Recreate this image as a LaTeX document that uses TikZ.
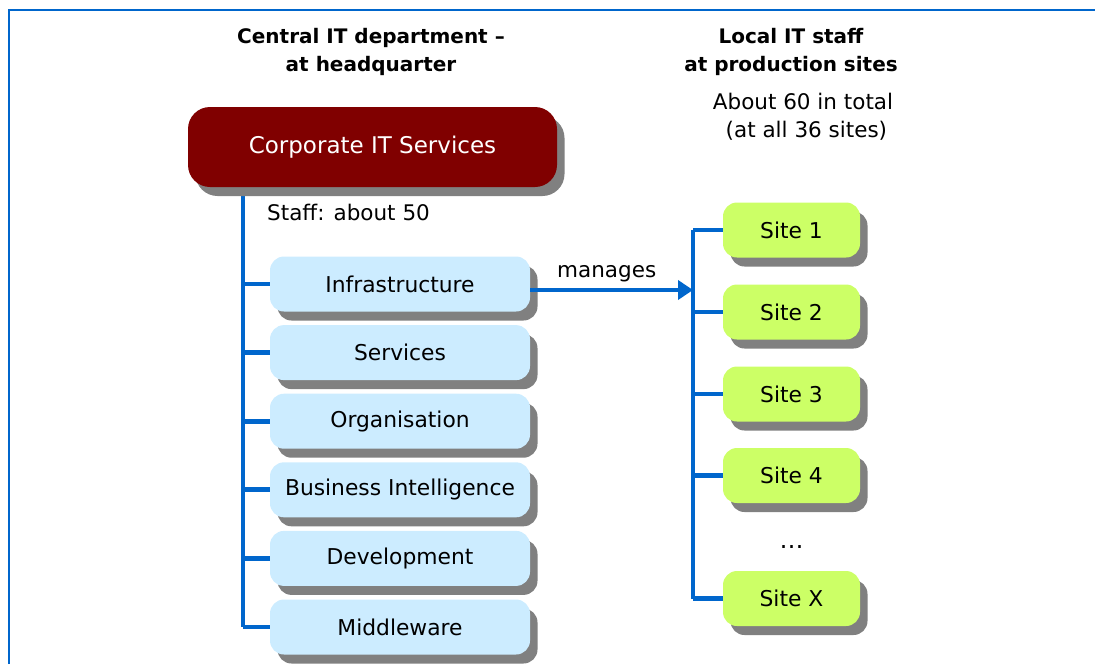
\documentclass[tikz,border=0pt]{standalone}
\usepackage{fontspec}
\setmainfont{DejaVu Sans}
\usetikzlibrary{shadows,arrows.meta}
\definecolor{linkblue}{RGB}{0,102,204}
\definecolor{corpred}{RGB}{128,0,0}
\definecolor{unitblue}{RGB}{204,236,255}
\definecolor{sitegreen}{RGB}{204,255,102}
\definecolor{shadowgray}{RGB}{128,128,128}
\pgfdeclarelayer{background}
\pgfsetlayers{background,main}
\begin{document}
\begin{tikzpicture}[x=1pt,y=-1pt,
  boxtext/.style={font=\fontsize{21.8}{26}\selectfont},
  boxshadow/.style={drop shadow={shadow xshift=7.5pt,shadow yshift=-9pt,fill=shadowgray,opacity=1}},
  corpbox/.style={rectangle, rounded corners=22pt, fill=corpred, text=white,
    minimum width=369pt, minimum height=80pt, inner sep=0pt,
    font=\fontsize{23}{26}\selectfont, boxshadow},
  unitbox/.style={rectangle, rounded corners=14pt, fill=unitblue, text=black,
    minimum width=260pt, minimum height=55pt, inner sep=0pt, boxtext, boxshadow},
  sitebox/.style={rectangle, rounded corners=14pt, fill=sitegreen, text=black,
    minimum width=137pt, minimum height=55pt, inner sep=0pt, boxtext, boxshadow},
  link/.style={draw=linkblue, line width=4.8pt},
  titletext/.style={font=\bfseries\fontsize{20}{28}\selectfont, align=center, inner sep=0pt},
  plaintext/.style={font=\fontsize{21.5}{28}\selectfont, align=center, inner sep=0pt},
  frameline/.style={draw=linkblue, line width=2pt}
]
\useasboundingbox (0,0) rectangle (1095,664);

% frame
\coordinate (fb) at (9,664);
\coordinate (fc) at (9,10);
\coordinate (fr) at (1095,10);
\draw[frameline] (fb) -- (fc) -- (fr);

% headings
\node[titletext] (lefttitle) at (371,52) {Central IT department –\\at headquarter};
\node[titletext] (righttitle) at (791,52) {Local IT staff\\at production sites};
\node[plaintext] (total) at (803,117) {About 60 in total\\\ (at all 36 sites)};

% central IT
\node[corpbox] (corp) at (372.5,147) {Corporate IT Services};
\node[plaintext, anchor=west] (staff) at (267,212) {Staff: about 50};

\node[unitbox] (u1) at (400,284) {Infrastructure};
\node[unitbox] (u2) at (400,352.6) {Services};
\node[unitbox] (u3) at (400,421.2) {Organisation};
\node[unitbox] (u4) at (400,489.8) {Business Intelligence};
\node[unitbox] (u5) at (400,558.4) {Development};
\node[unitbox] (u6) at (400,627) {Middleware};

% sites
\node[sitebox] (s1) at (791.5,230) {Site 1};
\node[sitebox] (s2) at (791.5,312) {Site 2};
\node[sitebox] (s3) at (791.5,394) {Site 3};
\node[sitebox] (s4) at (791.5,475.5) {Site 4};
\node[plaintext] (dots) at (791.5,547) {\fontsize{24}{26}\selectfont …};
\node[sitebox] (sx) at (791.5,598.5) {Site X};

% connectors
\coordinate (lspine) at (243,0);
\coordinate (rspine) at (693,0);
\coordinate (arrowend) at (693,290);
\begin{pgfonlayer}{background}
  \draw[link] (corp.south -| lspine) -- (u6.west -| lspine);
  \foreach \u in {u1,u2,u3,u4,u5,u6} {
    \draw[link] (\u.west -| lspine) -- (\u.west);
  }
  \draw[link] (s1.west -| rspine) -- (sx.west -| rspine);
  \foreach \s in {s1,s2,s3,s4,sx} {
    \draw[link] (\s.west -| rspine) -- (\s.west);
  }
\end{pgfonlayer}
\draw[link, -{Triangle[length=15pt,width=19pt]}] ([yshift=-6pt]u1.east) -- (arrowend)
  node[pos=0.47, above=6pt, plaintext] (manages) {manages};
\end{tikzpicture}
\end{document}
